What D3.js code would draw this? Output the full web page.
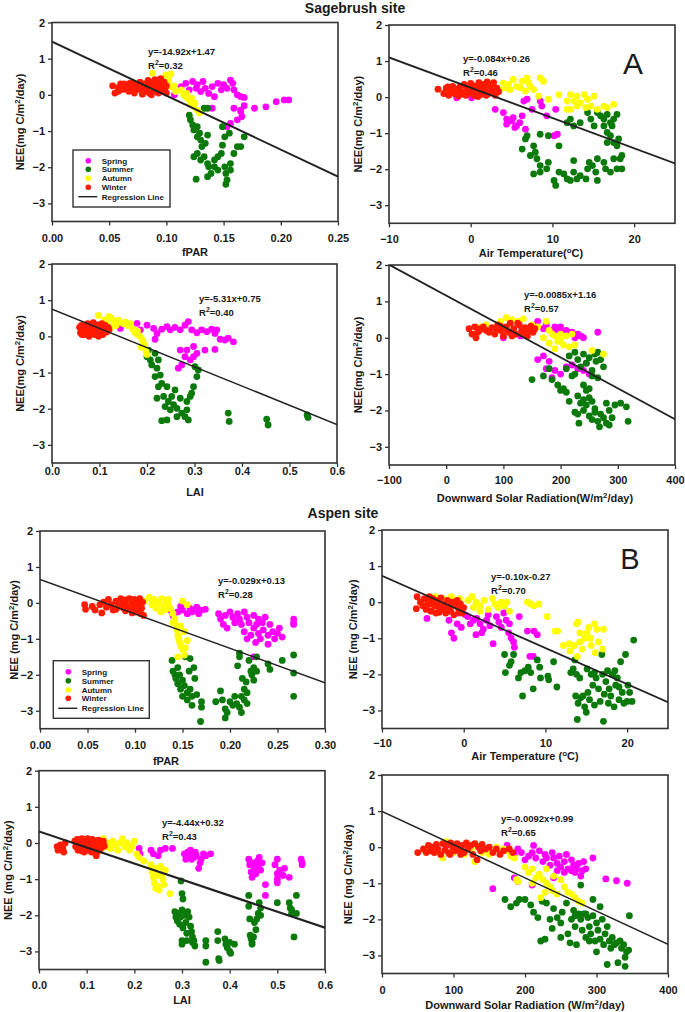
<!DOCTYPE html>
<html><head><meta charset="utf-8">
<script src="https://cdn.jsdelivr.net/npm/d3@7"></script>
<style>
body{margin:0;background:#fff}
svg{display:block}
text{font-family:"Liberation Sans",Arial,sans-serif;fill:#1a1a1a}
</style>
</head><body>
<svg id="chart" width="685" height="1012"></svg>
<script>
// ---------- categories ----------
const seasons = ["Spring", "Summer", "Autumn", "Winter"];
const seasonColors = ["#ff00ff", "#0b7a0b", "#ffff00", "#ff1a00"];
const siteTitles = ["Sagebrush site", "Aspen site"];
const siteLetters = ["A", "B"];

// ---------- tick values ----------
const yTicks = [-3, -2, -1, 0, 1, 2];
const sgFparTicks = [0, 0.05, 0.10, 0.15, 0.20, 0.25];
const asFparTicks = [0, 0.05, 0.10, 0.15, 0.20, 0.25, 0.30];
const tempTicks = [-10, 0, 10, 20];
const laiTicks = [0, 0.1, 0.2, 0.3, 0.4, 0.5, 0.6];
const sgRadTicks = [-100, 0, 100, 200, 300, 400];
const asRadTicks = [0, 100, 200, 300, 400];

// ---------- regression (slope, intercept as drawn) ----------
const regSlopes = [-14.92, -0.084, -5.31, -0.0085, -9.57, -0.10, -4.44, -0.0092];
const regIntercepts = [1.47, 0.26, 0.75, 1.16, 0.65, -0.27, 0.32, 0.99];
const eqLabels = ["y=-14.92x+1.47", "y=-0.084x+0.26", "y=-5.31x+0.75", "y=-0.0085x+1.16",
                  "y=-0.029x+0.13", "y=-0.10x-0.27", "y=-4.44x+0.32", "y=-0.0092x+0.99"];
const r2Values = ["0.32", "0.46", "0.40", "0.57", "0.28", "0.70", "0.43", "0.65"];

// ---------- Sagebrush: fPAR ----------
const sgFparSpring = [[0.107,0.0],[0.113,0.23],[0.117,0.32],[0.123,0.37],[0.127,0.28],[0.132,0.37],[0.134,0.18],[0.137,0.04],[0.14,0.23],[0.145,0.32],[0.148,0.14],[0.15,0.28],[0.153,0.18],[0.156,0.41],[0.158,0.32],[0.159,0.14],[0.162,0.0],[0.165,-0.05],[0.168,-0.07],[0.142,-0.05],[0.13,0.09],[0.126,0.18],[0.12,0.14],[0.177,-0.37],[0.187,-0.33],[0.196,-0.19],[0.203,-0.14],[0.207,-0.14],[0.14,-0.37],[0.159,-0.37],[0.165,-0.42],[0.166,-0.6],[0.162,-0.69],[0.156,-0.79],[0.153,-0.88],[0.165,-0.46],[0.168,-0.3]];
const sgFparSummer = [[0.12,-0.56],[0.121,-0.69],[0.123,-0.83],[0.124,-0.97],[0.127,-0.88],[0.129,-1.06],[0.13,-1.25],[0.127,-1.16],[0.131,-1.43],[0.124,-1.71],[0.127,-1.62],[0.13,-1.8],[0.133,-1.71],[0.136,-1.9],[0.137,-1.99],[0.142,-1.8],[0.145,-1.71],[0.142,-1.99],[0.145,-2.08],[0.139,-2.17],[0.136,-2.26],[0.126,-2.33],[0.151,-1.99],[0.152,-2.17],[0.153,-2.35],[0.152,-2.47],[0.156,-2.08],[0.156,-1.9],[0.159,-1.62],[0.162,-1.43],[0.165,-1.43],[0.168,-1.16],[0.149,-0.88],[0.151,-1.16],[0.149,-1.39],[0.148,-1.62],[0.133,-0.37],[0.136,-0.37],[0.136,-1.11],[0.134,-1.34],[0.155,-1.06]];
const sgFparAutumn = [[0.0877,0.6],[0.0994,0.55],[0.104,0.58],[0.101,0.37],[0.104,0.23],[0.108,0.09],[0.113,0.14],[0.117,-0.05],[0.12,-0.14],[0.121,-0.23],[0.124,-0.32],[0.127,-0.42],[0.129,-0.5],[0.118,0.04],[0.122,-0.1],[0.098,0.28],[0.102,0.42],[0.107,0.25],[0.115,0.0],[0.125,-0.23]];
const sgFparWinter = [[0.053,0.25],[0.055,0.05],[0.058,0.2],[0.06,0.3],[0.062,0.15],[0.065,0.25],[0.067,0.1],[0.068,0.32],[0.07,0.2],[0.072,0.05],[0.074,0.28],[0.075,0.15],[0.077,0.35],[0.078,0.22],[0.08,0.1],[0.081,0.3],[0.083,0.18],[0.084,0.4],[0.085,0.05],[0.086,0.25],[0.088,0.35],[0.089,0.12],[0.09,0.42],[0.091,0.2],[0.092,0.3],[0.093,0.05],[0.094,0.38],[0.095,0.15],[0.096,0.28],[0.097,0.1],[0.098,0.35],[0.099,0.2],[0.1,0.05],[0.1,0.25],[0.058,0.1],[0.063,0.3],[0.07,0.32],[0.079,0.02],[0.087,0.0],[0.095,0.45]];

// ---------- Sagebrush: Air temperature ----------
const sgTempSpring = [[-1.72,-0.02],[0.1,-0.02],[3.0,-0.34],[4.0,-0.43],[4.4,-0.61],[5.2,-0.57],[5.4,-0.84],[6.0,-0.71],[6.3,-0.52],[6.7,-0.89],[6.9,-0.06],[6.5,-0.11],[7.5,-0.34],[8.5,-0.11],[8.7,-0.25],[9.3,-0.52],[10.4,-0.34],[10.6,-1.03],[10.2,-1.07],[4.4,-0.75],[5.0,-0.66],[5.6,-0.8],[0.8,0.03]];
const sgTempSummer = [[6.3,-1.44],[6.7,-1.16],[6.9,-1.07],[7.3,-1.62],[7.7,-1.35],[7.9,-1.53],[8.1,-1.71],[7.7,-2.13],[8.5,-2.08],[8.5,-1.9],[9.3,-1.99],[9.5,-1.81],[8.5,-1.03],[9.5,-1.07],[10.2,-2.31],[10.4,-2.45],[10.8,-2.08],[10.8,-1.35],[11.4,-2.13],[11.8,-2.27],[12.2,-2.31],[12.6,-2.08],[12.6,-1.76],[13.0,-2.27],[13.4,-2.18],[14.1,-2.27],[14.3,-1.99],[14.5,-1.81],[14.9,-1.9],[15.3,-2.08],[15.5,-2.31],[15.5,-1.71],[16.3,-1.81],[16.5,-1.99],[17.1,-2.08],[17.9,-1.99],[18.3,-1.71],[18.5,-1.99],[17.5,-1.71],[11.8,-0.71],[12.2,-0.61],[12.6,-0.8],[13.4,-0.71],[14.3,-0.43],[14.7,-0.61],[15.1,-0.8],[15.5,-0.43],[15.9,-0.52],[16.3,-0.61],[16.7,-0.48],[17.1,-0.71],[17.5,-0.61],[17.9,-0.48],[16.7,-0.98],[17.1,-1.07],[17.5,-1.26],[17.9,-1.35],[16.7,-1.26],[17.3,-0.8],[18.1,-1.16],[18.5,-1.62],[16.3,-0.8]];
const sgTempAutumn = [[3.6,0.21],[4.0,0.39],[4.6,0.35],[5.2,0.49],[5.6,0.30],[6.3,0.44],[6.9,0.53],[7.1,0.39],[7.7,0.21],[8.5,0.53],[8.9,0.44],[8.3,0.03],[4.8,0.21],[6.1,0.26],[6.7,0.17],[7.3,0.30],[4.4,0.26],[9.5,-0.06],[10.8,0.07],[11.8,-0.11],[12.2,0.07],[12.6,-0.11],[13.0,0.03],[13.4,-0.16],[13.9,0.07],[14.3,-0.06],[14.7,-0.25],[15.1,0.03],[15.5,-0.34],[16.3,-0.25],[16.7,-0.29],[17.5,-0.2],[13.0,-0.25],[14.1,-0.29],[12.2,-0.34],[11.8,-0.34]];
const sgTempWinter = [[-4,0.22],[-3.3,0.1],[-3,0.25],[-2.7,0.05],[-2.5,0.18],[-2.2,0.3],[-2,0.1],[-1.8,0.22],[-1.5,0.03],[-1.3,0.3],[-1,0.15],[-0.8,0.35],[-0.6,0.05],[-0.4,0.25],[-0.2,0.12],[0,0.38],[0.2,0.2],[0.4,0.05],[0.6,0.3],[0.8,0.15],[1,0.4],[1.2,0.25],[1.4,0.08],[1.6,0.35],[1.8,0.2],[2,0.42],[2.2,0.1],[2.4,0.3],[2.6,0.18],[2.8,0.4],[3,0.05],[3.2,0.25],[3.4,0.15],[-1.6,0.2],[0.9,0.02],[1.9,0.05],[-2.8,0.28],[0.3,0.32],[2.5,0.35],[-0.9,0.08]];

// ---------- Sagebrush: LAI ----------
const sgLaiSpring = [[0.144,0.22],[0.161,0.31],[0.179,0.36],[0.186,0.18],[0.2,0.31],[0.214,0.22],[0.217,-0.08],[0.231,0.2],[0.242,0.27],[0.249,0.18],[0.259,0.25],[0.27,0.18],[0.28,0.31],[0.287,0.41],[0.294,0.18],[0.305,0.1],[0.315,0.18],[0.326,0.13],[0.336,0.2],[0.343,0.08],[0.354,-0.08],[0.364,-0.1],[0.371,-0.05],[0.382,-0.15],[0.347,0.18],[0.27,-0.38],[0.28,-0.56],[0.284,-0.38],[0.291,-0.65],[0.298,-0.56],[0.273,-0.79],[0.266,-0.88],[0.298,-0.28],[0.322,-0.38],[0.343,-0.36],[0.305,-0.47],[0.221,0.08]];
const sgLaiSummer = [[0.203,-0.38],[0.2,-0.56],[0.207,-0.65],[0.21,-0.79],[0.217,-0.47],[0.221,-0.88],[0.224,-0.65],[0.217,-1.11],[0.228,-1.07],[0.231,-1.3],[0.224,-1.39],[0.242,-1.39],[0.221,-1.71],[0.235,-1.66],[0.238,-1.94],[0.245,-1.8],[0.249,-2.03],[0.256,-1.89],[0.263,-1.99],[0.27,-1.71],[0.273,-2.12],[0.284,-2.03],[0.284,-1.8],[0.287,-2.31],[0.28,-2.22],[0.263,-2.22],[0.242,-2.31],[0.231,-2.33],[0.294,-1.57],[0.298,-1.39],[0.305,-1.11],[0.308,-0.93],[0.301,-0.84],[0.291,-1.66],[0.252,-1.66],[0.371,-2.12],[0.373,-2.35],[0.452,-2.29],[0.455,-2.45],[0.537,-2.17],[0.539,-2.24],[0.259,-1.48]];
const sgLaiAutumn = [[0.098,0.58],[0.11,0.45],[0.12,0.55],[0.125,0.5],[0.13,0.4],[0.135,0.3],[0.14,0.45],[0.15,0.35],[0.155,0.4],[0.16,0.3],[0.17,0.2],[0.175,0.1],[0.18,0.05],[0.185,0.0],[0.19,-0.1],[0.195,-0.25],[0.198,-0.4],[0.2,-0.5],[0.188,-0.3],[0.192,-0.15],[0.18,0.15],[0.165,0.35],[0.115,0.35],[0.125,0.25]];
const sgLaiWinter = [[0.058,0.25],[0.06,0.1],[0.062,0.3],[0.065,0.18],[0.067,0.05],[0.07,0.28],[0.072,0.15],[0.075,0.35],[0.077,0.2],[0.08,0.08],[0.082,0.3],[0.085,0.18],[0.087,0.38],[0.09,0.05],[0.092,0.25],[0.095,0.15],[0.097,0.32],[0.1,0.1],[0.102,0.22],[0.105,0.35],[0.107,0.05],[0.11,0.2],[0.112,0.3],[0.115,0.12],[0.118,0.25],[0.12,0.18],[0.063,0.05],[0.078,0.0],[0.098,0.0],[0.108,0.3]];

// ---------- Sagebrush: solar radiation ----------
const sgRadSpring = [[100,0.0],[130,0.05],[140,0.2],[155,0.35],[160,0.45],[175,0.35],[190,0.3],[200,0.3],[210,0.2],[220,0.15],[230,0.1],[235,0.05],[240,0.0],[170,0.25],[185,0.2],[195,0.2],[205,0.15],[225,0.0],[265,0.15],[160,-0.6],[180,-0.65],[190,-0.9],[175,-0.85],[210,-0.8],[220,-0.75],[230,-0.85],[240,-0.9],[200,-1.0],[185,-1.1],[250,-1.0],[245,-0.7],[170,-0.5]];
const sgRadSummer = [[150,-1.15],[170,-1.05],[185,-1.15],[180,-0.85],[195,-1.3],[200,-1.45],[205,-1.4],[210,-1.5],[215,-1.75],[210,-0.85],[220,-1.05],[225,-1.0],[215,-0.5],[225,-0.4],[230,-0.6],[235,-0.8],[240,-0.45],[245,-0.7],[250,-0.55],[255,-0.9],[260,-0.45],[262,-0.65],[265,-0.4],[270,-0.6],[275,-0.8],[240,-1.3],[245,-1.45],[230,-1.6],[240,-1.7],[245,-1.85],[250,-1.65],[255,-1.75],[260,-1.95],[225,-2.05],[230,-2.1],[232,-2.35],[240,-2.0],[250,-2.15],[255,-2.25],[260,-2.05],[265,-2.3],[268,-2.45],[270,-2.1],[275,-2.2],[280,-2.35],[285,-2.0],[290,-2.2],[280,-1.8],[295,-1.85],[305,-1.8],[315,-1.9],[318,-2.3],[265,-1.1],[250,-1.4],[255,-1.05],[235,-1.8],[285,-2.4]];
const sgRadAutumn = [[60,0.3],[70,0.35],[95,0.45],[105,0.55],[115,0.5],[125,0.45],[135,0.52],[150,0.35],[160,0.3],[175,0.45],[180,0.2],[185,0.1],[190,0.05],[200,0.1],[210,0.05],[195,-0.1],[205,-0.2],[215,-0.25],[225,-0.2],[180,-0.15],[190,-0.3],[255,-0.35],[275,-0.45],[220,0.1],[170,0.0],[200,-0.05]];
const sgRadWinter = [[40,0.25],[45,0.1],[50,0.3],[55,0.15],[60,0.25],[52,0.0],[65,0.3],[70,0.2],[80,0.28],[85,0.1],[90,0.35],[95,0.2],[100,0.05],[105,0.3],[110,0.15],[112,0.4],[118,0.25],[122,0.1],[128,0.35],[132,0.2],[138,0.28],[142,0.05],[148,0.32],[152,0.15],[155,0.25],[75,0.15],[95,0.32],[115,0.05],[135,0.12],[145,0.22],[58,0.2],[88,0.25],[125,0.4],[105,0.22]];

// ---------- Aspen: fPAR ----------
const asFparSpring = [[0.137,-0.2],[0.14,-0.35],[0.145,-0.25],[0.148,-0.1],[0.15,-0.2],[0.155,-0.3],[0.158,-0.15],[0.16,-0.25],[0.163,-0.2],[0.165,-0.12],[0.167,-0.3],[0.17,-0.2],[0.174,-0.18],[0.188,-0.3],[0.19,-0.45],[0.193,-0.6],[0.195,-0.35],[0.197,-0.7],[0.2,-0.25],[0.203,-0.4],[0.205,-0.55],[0.208,-0.3],[0.21,-0.45],[0.212,-0.6],[0.215,-0.25],[0.215,-0.8],[0.218,-0.4],[0.22,-0.55],[0.222,-0.9],[0.225,-0.35],[0.225,-0.7],[0.227,-1.1],[0.228,-0.6],[0.23,-0.45],[0.23,-0.85],[0.232,-1.0],[0.234,-0.55],[0.235,-0.75],[0.237,-0.4],[0.24,-0.9],[0.242,-0.6],[0.245,-0.8],[0.247,-1.0],[0.25,-0.85],[0.252,-0.7],[0.255,-0.95],[0.267,-0.45],[0.267,-0.55],[0.267,-0.6],[0.225,-1.5],[0.24,-1.15],[0.218,-1.0]];
const asFparSummer = [[0.139,-1.6],[0.14,-1.9],[0.142,-2.0],[0.143,-2.1],[0.145,-1.8],[0.145,-2.25],[0.147,-2.0],[0.148,-2.4],[0.15,-2.15],[0.15,-2.6],[0.152,-2.3],[0.153,-1.5],[0.155,-2.5],[0.155,-2.7],[0.157,-1.9],[0.158,-2.4],[0.16,-2.6],[0.16,-2.85],[0.158,-1.55],[0.162,-1.8],[0.163,-2.1],[0.165,-2.55],[0.17,-2.75],[0.17,-2.9],[0.169,-3.3],[0.185,-2.75],[0.19,-2.45],[0.192,-2.7],[0.195,-3.2],[0.195,-2.95],[0.197,-3.05],[0.2,-2.75],[0.203,-2.85],[0.205,-2.6],[0.207,-2.8],[0.208,-1.75],[0.21,-2.9],[0.21,-1.4],[0.212,-3.05],[0.212,-2.6],[0.213,-2.1],[0.215,-2.4],[0.215,-2.7],[0.217,-2.2],[0.218,-2.8],[0.22,-1.6],[0.222,-1.9],[0.223,-2.0],[0.225,-1.8],[0.228,-1.5],[0.225,-2.15],[0.24,-1.7],[0.242,-1.85],[0.255,-1.6],[0.267,-1.45],[0.267,-1.95],[0.267,-2.6],[0.21,-1.5],[0.218,-2.5],[0.228,-1.9]];
const asFparAutumn = [[0.11,0.05],[0.115,0.15],[0.118,-0.05],[0.12,0.1],[0.122,-0.15],[0.125,0.0],[0.127,-0.25],[0.128,0.12],[0.13,-0.1],[0.132,-0.2],[0.133,0.05],[0.135,-0.05],[0.137,-0.15],[0.14,-0.3],[0.142,-0.45],[0.143,-0.6],[0.144,-0.75],[0.145,-0.9],[0.146,-1.0],[0.147,-1.1],[0.148,-1.2],[0.15,-1.3],[0.152,-1.45],[0.153,-1.25],[0.155,-1.05],[0.145,-1.5],[0.15,0.05],[0.155,-0.05],[0.148,-0.65],[0.152,-0.8],[0.14,-0.55],[0.118,0.0],[0.135,0.1]];
const asFparWinter = [[0.047,-0.05],[0.048,-0.18],[0.055,-0.1],[0.058,-0.2],[0.063,-0.05],[0.065,-0.28],[0.067,0.02],[0.07,-0.12],[0.072,0.1],[0.075,-0.05],[0.077,-0.2],[0.08,0.05],[0.082,-0.1],[0.085,0.12],[0.087,-0.02],[0.088,-0.15],[0.09,0.08],[0.092,-0.08],[0.094,0.12],[0.096,-0.18],[0.097,0.0],[0.099,0.1],[0.1,-0.12],[0.101,-0.25],[0.102,0.05],[0.104,-0.05],[0.105,0.12],[0.106,-0.3],[0.107,-0.15],[0.108,0.02],[0.109,-0.35],[0.08,-0.18],[0.09,-0.22],[0.097,-0.28],[0.103,-0.18],[0.085,-0.08]];

// ---------- Aspen: Air temperature ----------
const asTempSpring = [[-4.5,-0.45],[-1.8,-0.5],[-1.5,-0.85],[-1.2,-1.0],[-0.8,-0.6],[-0.3,-0.7],[0.2,-0.35],[0.5,-0.4],[0.8,-0.6],[1.2,-0.5],[1.6,-0.45],[2,-0.6],[2.4,-0.75],[2.8,-0.5],[3.2,-0.65],[3.6,-1.15],[4,-0.4],[4.3,-0.55],[4.6,-0.7],[4.9,-0.3],[5.2,-0.5],[5.5,-0.85],[5.8,-1.0],[6.1,-1.1],[6.2,-1.25],[5.6,-0.6],[6.8,-0.4],[7.8,-0.8],[8.6,-0.8],[9.0,-0.9],[8.1,-1.5],[8.5,-1.5],[1.5,-0.9],[3.0,-0.35],[-0.6,-0.3],[2.2,-0.85]];
const asTempSummer = [[5,-1.45],[5.1,-1.95],[5.6,-1.75],[5.8,-1.65],[6.1,-1.45],[6.7,-2.1],[7,-1.95],[7.2,-2.6],[7.5,-1.9],[7.9,-1.8],[8.2,-1.95],[8.5,-2.4],[9,-1.6],[9.3,-1.8],[9.4,-2.1],[10.3,-2.05],[10.4,-2.15],[11,-1.65],[11.4,-2.35],[13.1,-1.95],[13.4,-1.85],[13.6,-1.6],[13.7,-2.6],[13.9,-3.25],[14,-2.8],[14.2,-2.1],[14.3,-2.65],[14.6,-2.6],[14.8,-2.9],[15,-3.05],[15.2,-2.5],[15.4,-2.7],[15.6,-2.0],[15.8,-2.3],[16,-2.85],[16.2,-2.1],[16.5,-2.4],[16.7,-2.75],[16.9,-1.45],[17,-2.0],[17.1,-3.3],[17.2,-2.55],[17.4,-2.2],[17.6,-1.9],[17.8,-2.4],[18,-2.6],[18.2,-2.0],[18.4,-2.9],[18.6,-2.3],[18.8,-2.1],[19,-2.7],[19.2,-1.65],[19.4,-2.5],[19.6,-2.8],[19.8,-1.45],[20,-2.75],[20.1,-2.3],[20.3,-2.5],[20.6,-2.75],[20.8,-1.05],[13.8,-2.0],[16,-1.95],[17.7,-2.8],[19,-2.35],[15.1,-1.85],[18.5,-1.9]];
const asTempAutumn = [[-3.5,0.15],[-2.5,0.1],[-1.5,0.15],[-0.5,0.1],[0.5,0.05],[1,0.15],[1.5,0.0],[2,-0.1],[2.5,0.05],[3,-0.2],[3.5,0.1],[3.8,-0.05],[4.2,-0.15],[4.6,0.0],[5,-0.1],[5.3,0.0],[5.6,-0.25],[2,-0.25],[1.2,-0.15],[7.8,0.0],[8.2,-0.05],[8.6,-0.1],[9.2,-0.05],[10.2,-0.4],[11.2,-0.8],[11.5,-0.8],[12.2,-1.2],[13,-1.35],[13.5,-1.2],[13.8,-0.6],[14,-0.55],[14.2,-0.85],[14.5,-1.3],[14.8,-1.0],[15.1,-0.85],[15.3,-0.7],[15.6,-1.2],[16,-0.6],[16.3,-0.75],[16.5,-1.1],[17.1,-0.75],[17,-1.3],[15.5,-1.0],[14.2,-1.1],[13.9,-1.5],[12.9,-1.15],[16.1,-1.4]];
const asTempWinter = [[-5.8,-0.18],[-5.7,0.15],[-5.3,0.0],[-5.0,-0.1],[-4.8,0.1],[-4.6,-0.2],[-4.4,0.05],[-4.2,-0.05],[-4,-0.25],[-3.8,0.1],[-3.6,-0.1],[-3.4,-0.3],[-3.2,0.0],[-3,-0.15],[-2.8,0.12],[-2.6,-0.2],[-2.4,-0.05],[-2.2,-0.3],[-2,0.05],[-1.8,-0.15],[-1.6,-0.25],[-1.4,0.0],[-1.2,-0.35],[-1,-0.1],[-0.8,0.05],[-0.6,-0.2],[-0.4,-0.05],[-0.2,-0.3],[0,-0.15],[-4.5,-0.08],[-3.5,0.05],[-2.5,-0.12],[-1.5,-0.05],[-0.5,-0.28],[-4.2,0.15],[-3.0,-0.28]];

// ---------- Aspen: LAI ----------
const asLaiSpring = [[0.21,-0.15],[0.212,-0.3],[0.235,-0.2],[0.24,-0.3],[0.25,-0.35],[0.255,-0.2],[0.265,-0.15],[0.28,-0.15],[0.305,-0.3],[0.308,-0.45],[0.312,-0.25],[0.315,-0.35],[0.318,-0.2],[0.32,-0.45],[0.322,-0.3],[0.325,-0.4],[0.328,-0.25],[0.33,-0.35],[0.335,-0.7],[0.338,-0.55],[0.34,-0.45],[0.345,-0.3],[0.35,-0.35],[0.36,-0.3],[0.44,-0.45],[0.442,-0.6],[0.445,-0.8],[0.447,-0.95],[0.45,-0.55],[0.452,-0.7],[0.455,-0.85],[0.458,-0.5],[0.46,-0.65],[0.462,-0.4],[0.465,-0.75],[0.468,-0.55],[0.475,-1.15],[0.475,-1.45],[0.495,-0.6],[0.5,-0.45],[0.5,-0.85],[0.5,-1.0],[0.5,-1.1],[0.505,-0.75],[0.512,-0.9],[0.515,-0.7],[0.525,-0.95],[0.55,-0.45],[0.552,-0.55],[0.552,-0.6]];
const asLaiSummer = [[0.298,-1.05],[0.3,-1.4],[0.302,-1.55],[0.285,-1.9],[0.287,-2.05],[0.29,-2.15],[0.292,-1.95],[0.295,-2.25],[0.297,-2.05],[0.3,-1.85],[0.302,-2.35],[0.305,-2.0],[0.308,-2.2],[0.31,-2.5],[0.31,-2.7],[0.312,-1.9],[0.315,-2.05],[0.318,-2.3],[0.32,-2.45],[0.322,-2.6],[0.325,-2.7],[0.327,-2.85],[0.3,-2.7],[0.3,-2.8],[0.35,-2.7],[0.35,-2.85],[0.35,-3.3],[0.375,-2.45],[0.375,-2.7],[0.377,-3.2],[0.378,-3.25],[0.39,-2.65],[0.392,-2.8],[0.395,-2.9],[0.4,-2.75],[0.4,-3.0],[0.402,-3.05],[0.41,-2.8],[0.44,-1.45],[0.44,-1.75],[0.442,-2.1],[0.443,-2.55],[0.445,-2.65],[0.447,-2.75],[0.45,-2.6],[0.452,-2.2],[0.455,-2.4],[0.457,-2.1],[0.46,-1.95],[0.462,-1.65],[0.465,-1.8],[0.465,-2.0],[0.5,-1.65],[0.525,-1.65],[0.527,-1.8],[0.53,-1.85],[0.53,-1.95],[0.535,-2.6],[0.54,-1.45],[0.54,-1.95],[0.447,-2.8],[0.322,-2.75]];
const asLaiAutumn = [[0.13,-0.2],[0.135,0.12],[0.14,-0.1],[0.145,0.0],[0.15,-0.15],[0.155,0.05],[0.16,-0.05],[0.165,-0.2],[0.17,0.0],[0.175,0.12],[0.18,-0.1],[0.185,0.0],[0.19,-0.2],[0.195,-0.1],[0.2,0.05],[0.205,-0.3],[0.21,-0.4],[0.22,-0.5],[0.235,-0.6],[0.237,-0.8],[0.24,-0.95],[0.242,-1.1],[0.245,-0.7],[0.248,-0.9],[0.25,-1.2],[0.252,-1.3],[0.255,-0.65],[0.258,-0.85],[0.26,-1.0],[0.262,-1.15],[0.265,-0.75],[0.275,-1.4],[0.245,-1.25]];
const asLaiWinter = [[0.038,-0.1],[0.04,-0.2],[0.045,-0.05],[0.05,-0.15],[0.052,-0.25],[0.055,0.0],[0.075,0.05],[0.077,-0.1],[0.08,0.1],[0.082,-0.2],[0.085,0.0],[0.087,-0.12],[0.09,0.12],[0.092,-0.05],[0.095,-0.25],[0.097,0.08],[0.1,-0.1],[0.102,0.12],[0.105,-0.2],[0.107,0.0],[0.11,-0.1],[0.112,0.1],[0.115,-0.15],[0.118,0.05],[0.12,-0.3],[0.122,-0.05],[0.125,0.08],[0.127,-0.2],[0.13,0.0],[0.132,-0.12],[0.135,0.05],[0.137,-0.08],[0.09,-0.22],[0.1,0.0],[0.11,-0.25],[0.12,-0.35],[0.08,-0.05],[0.125,-0.1]];

// ---------- Aspen: solar radiation ----------
const asRadSpring = [[175,0.05],[185,-0.2],[190,-0.05],[195,-0.15],[200,-0.35],[205,-0.25],[210,-0.15],[212,0.05],[215,-0.3],[220,-0.1],[225,-0.4],[228,-0.2],[230,-0.3],[235,-0.5],[238,-0.15],[240,-0.3],[245,-0.45],[248,-0.25],[250,-0.55],[255,-0.4],[258,-0.2],[260,-0.6],[265,-0.35],[268,-0.5],[270,-0.7],[272,-0.6],[275,-0.45],[278,-0.8],[280,-0.65],[282,-0.4],[285,-0.6],[295,-0.3],[265,-0.65],[255,-0.7],[245,-0.65],[185,-0.85],[190,-0.95],[155,-1.15],[210,-1.05],[313,-0.88],[328,-0.93],[343,-1.0],[240,-0.85]];
const asRadSummer = [[172,-1.45],[180,-1.65],[188,-1.55],[192,-1.45],[200,-1.45],[208,-1.6],[212,-1.8],[218,-1.95],[222,-2.6],[228,-2.55],[224,-1.5],[230,-1.55],[235,-2.0],[238,-2.25],[240,-1.7],[245,-1.95],[250,-2.1],[252,-1.8],[258,-1.55],[260,-2.4],[263,-2.65],[265,-2.0],[268,-1.75],[270,-2.2],[272,-2.7],[275,-1.85],[278,-2.0],[280,-2.3],[282,-1.85],[285,-2.5],[288,-1.95],[290,-2.2],[292,-2.4],[295,-1.9],[298,-2.6],[300,-2.1],[302,-2.3],[305,-2.55],[308,-2.0],[310,-2.7],[312,-2.4],[315,-2.2],[318,-2.6],[320,-2.8],[322,-2.5],[325,-2.7],[328,-2.65],[330,-3.2],[333,-2.6],[335,-2.8],[338,-2.7],[340,-3.05],[342,-2.9],[345,-2.85],[346,-1.9],[315,-3.25],[340,-3.3],[305,-1.65],[295,-1.45],[278,-1.05],[285,-1.85],[270,-1.9],[300,-2.9],[290,-2.6],[250,-2.5]];
const asRadAutumn = [[60,-0.1],[80,-0.15],[85,-0.3],[90,0.15],[95,0.1],[100,-0.15],[105,0.0],[115,-0.2],[125,-0.05],[130,-0.4],[140,-0.15],[150,-0.2],[160,0.0],[170,-0.05],[175,-0.1],[180,-0.25],[185,-0.3],[200,-0.55],[205,-0.7],[210,-0.6],[215,-0.85],[220,-0.75],[225,-0.9],[230,-1.0],[235,-1.1],[238,-1.2],[245,-1.3],[250,-0.9],[255,-1.1],[260,-1.25],[265,-1.3],[270,-1.4],[275,-1.5],[280,-1.55],[230,-0.6],[240,-0.8],[222,-1.4],[228,-1.25],[190,-0.95],[210,-1.0],[188,-0.9]];
const asRadWinter = [[50,-0.15],[58,-0.05],[62,-0.15],[65,0.05],[68,-0.1],[70,0.0],[73,-0.15],[76,0.08],[78,-0.05],[82,-0.2],[85,0.1],[88,-0.08],[90,0.05],[93,-0.15],[96,0.12],[99,0.0],[102,-0.1],[105,0.1],[108,-0.05],[112,0.05],[115,-0.15],[118,0.12],[120,-0.05],[124,0.05],[127,-0.2],[130,0.1],[133,-0.35],[135,0.0],[138,-0.1],[145,-0.05],[150,0.0],[155,-0.15],[160,-0.05],[165,-0.2],[170,-0.1],[178,-0.05],[183,-0.15],[140,0.08],[110,-0.2],[95,-0.2],[75,-0.08]];

// ---------- layout ----------
const svg = d3.select("#chart");
const sup = (sel, t) => sel.append("tspan").attr("dy", -4).attr("font-size", "0.72em").text(t);
const back = (sel, t) => sel.append("tspan").attr("dy", 4).text(t);

const panels = [
  {series:[sgFparSpring,sgFparSummer,sgFparAutumn,sgFparWinter], xd:[0,0.25], xt:sgFparTicks, fmt:".2f", xr:[52,338], yr:[221.5,22.5], lblPad:9, xTitle:["fPAR"], xtPos:[195,256], yLbl:"NEE(mg C/m", yPos:20, eq:[148,55], lw:2, legend:{box:[73,150,97,57], rows:[160.7,169.3,178.3,187.3,196.7], mx:88.3, tx:101.7, line:[78.3,97.3]}},
  {series:[sgTempSpring,sgTempSummer,sgTempAutumn,sgTempWinter], xd:[-10,25], xt:tempTicks, fmt:"d", xr:[389,675], yr:[223.3,25], lblPad:7.5, xTitle:["Air Temperature(","o","C)"], xtPos:[531,257], yLbl:"NEE(mg C/m", yPos:358, eq:[463,62], lw:1.8},
  {series:[sgLaiSpring,sgLaiSummer,sgLaiAutumn,sgLaiWinter], xd:[0,0.6], xt:laiTicks, fmt:".1f", xr:[52,337], yr:[463,264], lblPad:0, xTitle:["LAI"], xtPos:[195,496], yLbl:"NEE(mg C/m", yPos:20, eq:[199,302], lw:1.6},
  {series:[sgRadSpring,sgRadSummer,sgRadAutumn,sgRadWinter], xd:[-100,400], xt:sgRadTicks, fmt:"d", xr:[389,675], yr:[465,265], lblPad:7.5, xTitle:["Downward Solar Radiation(W/m","2","/day)"], xtPos:[535,502], yLbl:"NEE(mg C/m", yPos:358, eq:[524,298], lw:1.8},
  {series:[asFparSpring,asFparSummer,asFparAutumn,asFparWinter], xd:[0,0.30], xt:asFparTicks, fmt:".2f", xr:[40,325], yr:[728.7,531], lblPad:9, xTitle:["fPAR"], xtPos:[166,765], yLbl:"NEE (mg C/m", yPos:14, eq:[218,584], lw:1.5, legend:{box:[53.3,660.7,96,57.6], rows:[671.7,680.7,690,698.3,708.3], mx:68.3, tx:81.7, line:[58.3,77.3]}},
  {series:[asTempSpring,asTempSummer,asTempAutumn,asTempWinter], xd:[-10,25], xt:tempTicks, fmt:"d", xr:[382,668], yr:[728.5,530], lblPad:6.5, xTitle:["Air Temperature (","o","C)"], xtPos:[525,759.5], yLbl:"NEE (mg C/m", yPos:353, eq:[491,580], lw:1.8},
  {series:[asLaiSpring,asLaiSummer,asLaiAutumn,asLaiWinter], xd:[0,0.6], xt:laiTicks, fmt:".1f", xr:[39,325], yr:[969.5,770.7], lblPad:8, xTitle:["LAI"], xtPos:[182,1004], yLbl:"NEE (mg C/m", yPos:8, eq:[162,826], lw:2.2},
  {series:[asRadSpring,asRadSummer,asRadAutumn,asRadWinter], xd:[0,400], xt:asRadTicks, fmt:"d", xr:[382,668], yr:[973.5,775], lblPad:9, xTitle:["Downward Solar Radiation (W/m","2","/day)"], xtPos:[525,1009], yLbl:"NEE (mg C/m", yPos:348, eq:[501,822], lw:1.4}
];

panels.forEach((p, i) => {
  const g = svg.append("g");
  const x = d3.scaleLinear().domain(p.xd).range(p.xr);
  const y = d3.scaleLinear().domain([-3.5, 2]).range(p.yr);

  // axes
  const ax = g.append("g").attr("transform", `translate(0,${p.yr[0]})`)
    .call(d3.axisBottom(x).tickValues(p.xt).tickFormat(d3.format(p.fmt)).tickSize(4).tickPadding(p.lblPad));
  const ay = g.append("g").attr("transform", `translate(${p.xr[0]},0)`)
    .call(d3.axisLeft(y).tickValues(yTicks).tickFormat(d3.format("d")).tickSize(4).tickPadding(3));
  [ax, ay].forEach(a => {
    a.select(".domain").remove();
    a.selectAll("line").attr("stroke", "#333").attr("stroke-width", 1.3);
    a.selectAll("text").attr("font-size", 11).attr("font-weight", "bold")
      .attr("font-family", "Liberation Sans, Arial, sans-serif").attr("fill", "#1a1a1a");
  });

  // frame
  g.append("rect").attr("x", p.xr[0]).attr("y", p.yr[1])
    .attr("width", p.xr[1] - p.xr[0]).attr("height", p.yr[0] - p.yr[1])
    .attr("fill", "none").attr("stroke", "#333").attr("stroke-width", 1.6);

  // points
  const clip = "clip" + i;
  g.append("clipPath").attr("id", clip).append("rect")
    .attr("x", p.xr[0]).attr("y", p.yr[1]).attr("width", p.xr[1] - p.xr[0]).attr("height", p.yr[0] - p.yr[1]);
  p.series.forEach((pts, s) => {
    g.append("g").selectAll("circle").data(pts).join("circle")
      .attr("cx", d => x(d[0])).attr("cy", d => y(d[1])).attr("r", 3.4)
      .attr("fill", seasonColors[s]);
  });

  // regression line
  const lx = p.xd;
  g.append("line").attr("clip-path", `url(#${clip})`)
    .attr("x1", x(lx[0])).attr("y1", y(regSlopes[i] * lx[0] + regIntercepts[i]))
    .attr("x2", x(lx[1])).attr("y2", y(regSlopes[i] * lx[1] + regIntercepts[i]))
    .attr("stroke", "#222").attr("stroke-width", p.lw);

  // equation text
  g.append("text").attr("x", p.eq[0]).attr("y", p.eq[1]).attr("font-size", 9.5).attr("font-weight", "bold").text(eqLabels[i]);
  const r2 = g.append("text").attr("x", p.eq[0]).attr("y", p.eq[1] + 14).attr("font-size", 9.5).attr("font-weight", "bold");
  r2.append("tspan").text("R");
  sup(r2, "2");
  back(r2, "=" + r2Values[i]);

  // x title
  const xt = g.append("text").attr("x", p.xtPos[0]).attr("y", p.xtPos[1]).attr("text-anchor", "middle")
    .attr("font-size", 11).attr("font-weight", "bold");
  xt.append("tspan").text(p.xTitle[0]);
  if (p.xTitle.length > 1) { sup(xt, p.xTitle[1]); back(xt, p.xTitle[2]); }

  // y title
  const yc = (p.yr[0] + p.yr[1]) / 2;
  const yt = g.append("text").attr("transform", `translate(${p.yPos + 4},${yc}) rotate(-90)`)
    .attr("text-anchor", "middle").attr("font-size", 11).attr("font-weight", "bold");
  yt.append("tspan").text(p.yLbl);
  sup(yt, "2");
  back(yt, "/day)");

  // legend
  if (p.legend) {
    const L = p.legend;
    g.append("rect").attr("x", L.box[0]).attr("y", L.box[1]).attr("width", L.box[2]).attr("height", L.box[3])
      .attr("fill", "#fff").attr("stroke", "#333").attr("stroke-width", 1.4);
    seasons.forEach((s, k) => {
      g.append("circle").attr("cx", L.mx).attr("cy", L.rows[k]).attr("r", 2.8).attr("fill", seasonColors[k]);
      g.append("text").attr("x", L.tx).attr("y", L.rows[k] + 3).attr("font-size", 8).attr("font-weight", "bold").attr("fill", "#333").text(s);
    });
    g.append("line").attr("x1", L.line[0]).attr("x2", L.line[1]).attr("y1", L.rows[4]).attr("y2", L.rows[4])
      .attr("stroke", "#222").attr("stroke-width", 1.4);
    g.append("text").attr("x", L.tx).attr("y", L.rows[4] + 3).attr("font-size", 8).attr("font-weight", "bold").attr("fill", "#333").text("Regression Line");
  }
});

// site titles and panel letters
svg.append("text").attr("x", 355).attr("y", 13).attr("text-anchor", "middle").attr("font-size", 14).attr("font-weight", "bold").text(siteTitles[0]);
svg.append("text").attr("x", 343).attr("y", 518).attr("text-anchor", "middle").attr("font-size", 14).attr("font-weight", "bold").text(siteTitles[1]);
svg.append("text").attr("x", 633).attr("y", 74).attr("text-anchor", "middle").attr("font-size", 30).attr("fill", "#000").text(siteLetters[0]);
svg.append("text").attr("x", 630).attr("y", 569).attr("text-anchor", "middle").attr("font-size", 29).attr("fill", "#000").text(siteLetters[1]);
</script>
</body></html>
